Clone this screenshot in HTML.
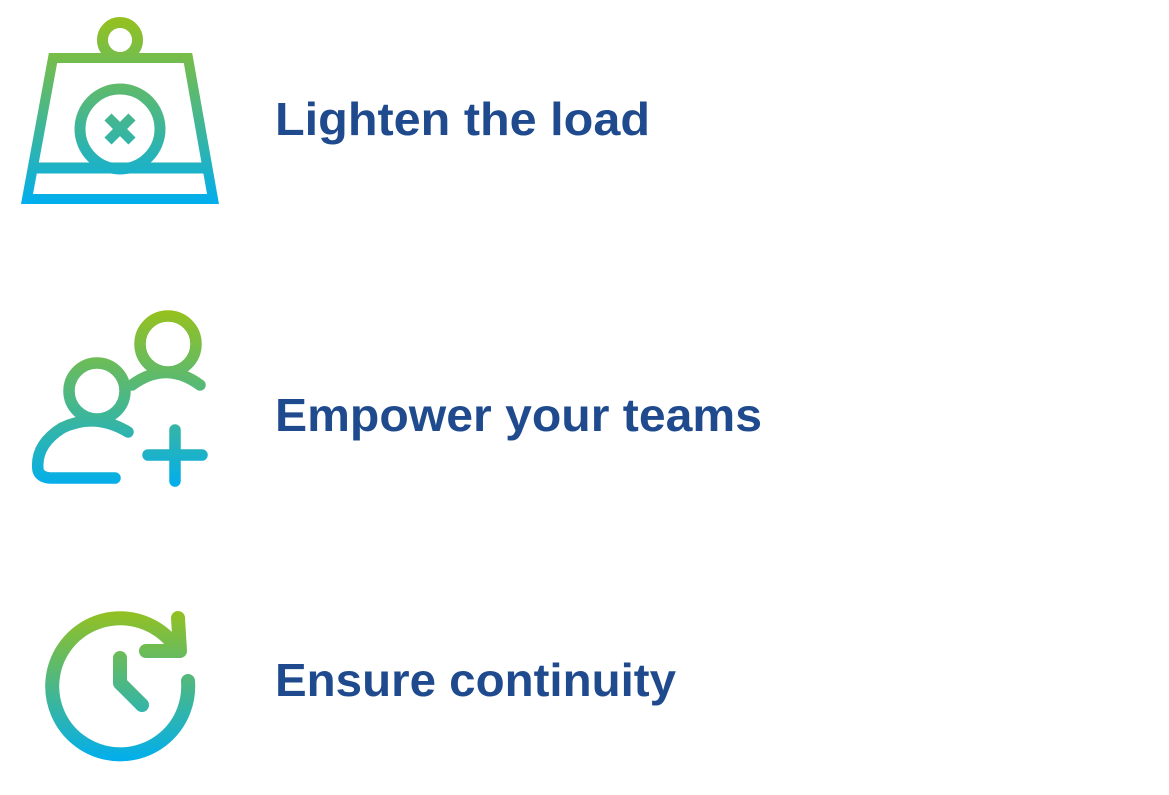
<!DOCTYPE html>
<html><head><meta charset="utf-8"><style>
html,body{margin:0;padding:0;background:#fff;}
svg{display:block;}
</style></head><body>
<svg width="1169" height="795" viewBox="0 0 1169 795" xmlns="http://www.w3.org/2000/svg">
<defs>
<linearGradient id="g1" gradientUnits="userSpaceOnUse" x1="0" y1="18" x2="0" y2="205"><stop offset="0" stop-color="#95c11f"/><stop offset="1" stop-color="#00aeef"/></linearGradient>
<linearGradient id="g2" gradientUnits="userSpaceOnUse" x1="0" y1="312" x2="0" y2="488"><stop offset="0" stop-color="#95c11f"/><stop offset="1" stop-color="#00aeef"/></linearGradient>
<linearGradient id="g3" gradientUnits="userSpaceOnUse" x1="0" y1="610" x2="0" y2="762"><stop offset="0" stop-color="#95c11f"/><stop offset="1" stop-color="#00aeef"/></linearGradient>
</defs>
<!-- Icon 1 -->
<g fill="none" stroke="url(#g1)">
<circle cx="120" cy="40" r="17.5" stroke-width="11"/>
<polygon points="53,58 188,58 213,199 27,199" stroke-width="10"/>
<line x1="30" y1="168" x2="210" y2="168" stroke-width="11"/>
<circle cx="120" cy="129" r="40" stroke-width="11"/>
<path d="M108,117 L132,141 M132,117 L108,141" stroke-width="10"/>
</g>
<!-- Icon 2 -->
<g fill="none" stroke="url(#g2)" stroke-width="11.5" stroke-linecap="round">
<circle cx="168" cy="344" r="28"/>
<circle cx="97" cy="391" r="28"/>
<path d="M132,385 Q166,360 200,385"/>
<path d="M128,432 Q95,412 62,428 Q35,445 38,470 Q40,478 52,478 L115,478"/>
<path d="M175,430 L175,481 M148,455 L202,455"/>
</g>
<!-- Icon 3 -->
<g fill="none" stroke="url(#g3)" stroke-width="14" stroke-linecap="round" stroke-linejoin="round">
<path d="M188,681 A68,68 0 1 1 170,640"/>
<path d="M178,618 L180,651 L146,651"/>
<path d="M120,658 L120,683 L142,705"/>
</g>
<g font-family="Liberation Sans, sans-serif" font-weight="bold" font-size="46" fill="#1f4b8e">
<text x="275" y="135" textLength="375" lengthAdjust="spacingAndGlyphs">Lighten the load</text>
<text x="275" y="431" textLength="487" lengthAdjust="spacingAndGlyphs">Empower your teams</text>
<text x="275" y="696" textLength="401" lengthAdjust="spacingAndGlyphs">Ensure continuity</text>
</g>
</svg>
</body></html>
